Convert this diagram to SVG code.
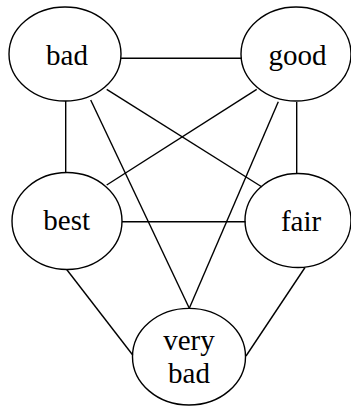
<svg xmlns="http://www.w3.org/2000/svg" width="351" height="409" viewBox="0 0 351 409">
  <style>
    .node ellipse { fill: none; stroke: #000; stroke-width: 1.4; }
    .node text { font-family: "Liberation Serif", "Times New Roman", serif; font-size: 29px; fill: #000; text-anchor: middle; }
    #edges line { stroke: #000; stroke-width: 1.4; }
  </style>
  <rect width="351" height="409" fill="#fff"/>
  <g id="edges">
    <line x1="121" y1="58.3" x2="242" y2="58.3"/>
    <line x1="65.7" y1="101" x2="65.7" y2="173"/>
    <line x1="296.7" y1="102" x2="296.7" y2="173.5"/>
    <line x1="106.7" y1="89.3" x2="262" y2="187"/>
    <line x1="256.7" y1="89.3" x2="106.7" y2="185"/>
    <line x1="90.7" y1="100" x2="189.3" y2="308.3"/>
    <line x1="278.3" y1="101.7" x2="189.3" y2="308.3"/>
    <line x1="122" y1="221.7" x2="245.5" y2="221.7"/>
    <line x1="66.7" y1="269.5" x2="132.7" y2="355"/>
    <line x1="305" y1="267.5" x2="246" y2="356"/>
  </g>
  <g id="bad" class="node">
    <ellipse cx="65" cy="54" rx="56" ry="47"/>
    <text x="67" y="65">bad</text>
  </g>
  <g id="good" class="node">
    <ellipse cx="296" cy="54" rx="55" ry="47"/>
    <text x="297.5" y="65">good</text>
  </g>
  <g id="best" class="node">
    <ellipse cx="67" cy="221" rx="55" ry="48.5"/>
    <text x="66.7" y="229.5">best</text>
  </g>
  <g id="fair" class="node">
    <ellipse cx="298" cy="220.5" rx="53" ry="47"/>
    <text x="301" y="230.5">fair</text>
  </g>
  <g id="very_bad" class="node">
    <ellipse cx="189" cy="356.7" rx="56.5" ry="48.3"/>
    <text x="189" y="350">very</text>
    <text x="189" y="383.3">bad</text>
  </g>
</svg>
